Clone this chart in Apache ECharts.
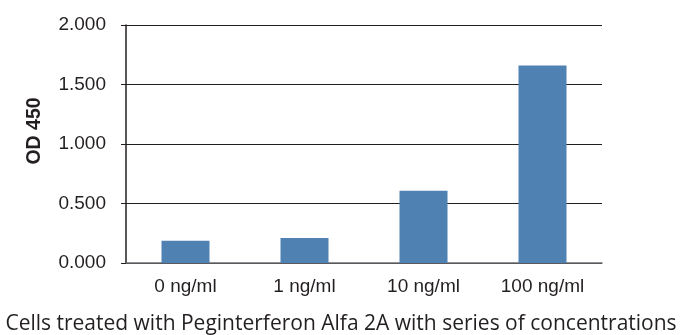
<!DOCTYPE html>
<html>
<head>
<meta charset="utf-8">
<script src="https://cdn.jsdelivr.net/npm/echarts@6/dist/echarts.min.js"></script>
<style>
  html, body { margin: 0; padding: 0; background: #fff; }
  #chart { width: 682px; height: 335px; }
</style>
</head>
<body>
<div id="chart"></div>
<script>
const categories = ['0 ng/ml', '1 ng/ml', '10 ng/ml', '100 ng/ml'];
const odValues = [0.188, 0.21, 0.607, 1.66];

const chart = echarts.init(document.getElementById('chart'));

chart.setOption({
  backgroundColor: '#fff',
  animation: false,
  title: {
    text: 'Cells treated with Peginterferon Alfa 2A with series of concentrations',
    left: 'center',
    top: 309,
    textStyle: {
      fontFamily: 'Open Sans',
      fontWeight: 'normal',
      fontSize: 21,
      color: '#231f20',
    },
  },
  grid: {
    left: 126,
    right: 80,
    top: 25,
    bottom: 72,
  },
  xAxis: {
    type: 'category',
    data: categories,
    axisLine: { lineStyle: { color: '#6d6e71', width: 1.5 } },
    axisTick: { show: false },
    axisLabel: {
      color: '#231f20',
      fontFamily: 'Liberation Sans',
      fontSize: 19,
      margin: 14,
    },
  },
  yAxis: {
    type: 'value',
    min: 0,
    max: 2,
    interval: 0.5,
    name: 'OD 450',
    nameLocation: 'middle',
    nameGap: 81,
    nameRotate: 90,
    nameTextStyle: {
      color: '#231f20',
      fontFamily: 'Liberation Sans',
      fontWeight: 'bold',
      fontSize: 19.5,
      padding: [0, 0, 0, 26],
    },
    axisLine: { show: true, lineStyle: { color: '#231f20', width: 1.5 } },
    axisTick: { show: true, length: 5, lineStyle: { color: '#231f20' } },
    axisLabel: {
      color: '#231f20',
      fontFamily: 'Liberation Sans',
      fontSize: 19,
      margin: 20,
      formatter: v => v.toFixed(3),
    },
    splitLine: { lineStyle: { color: '#231f20', width: 1 } },
  },
  series: [
    {
      type: 'bar',
      data: odValues,
      barWidth: 48,
      itemStyle: { color: '#4f81b3' },
    },
  ],
});
</script>
</body>
</html>
